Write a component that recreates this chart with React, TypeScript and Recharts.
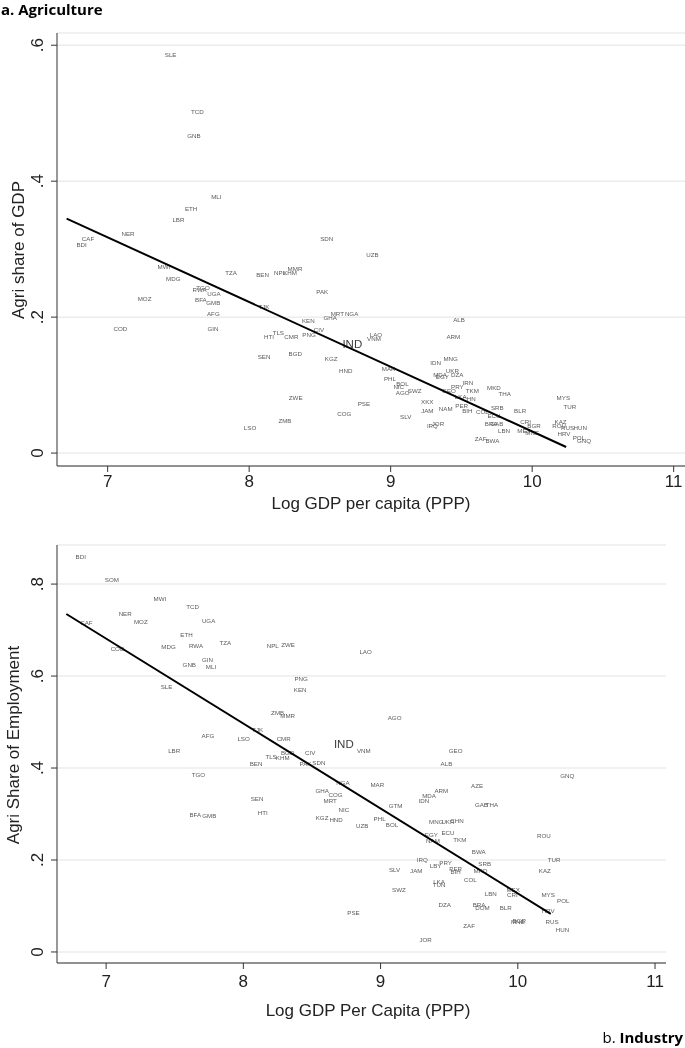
import React from 'react';
import { ScatterChart, Scatter, XAxis, YAxis, CartesianGrid } from 'recharts';

// shared x axis
const xTicks = [7, 8, 9, 10, 11];
const xDomain = [6.642, 11.08];

// panel a: agriculture share of GDP
const gdpYTicks = [0, 0.2, 0.4, 0.6];
const gdpCodes = [
  'SLE', 'TCD', 'GNB', 'MLI', 'ETH', 'LBR', 'NER', 'CAF', 'BDI', 'SDN', 'UZB', 'MWI', 'TZA', 'BEN', 'NPL',
  'KHM', 'MMR', 'MDG', 'TGO', 'RWA', 'UGA', 'MOZ', 'BFA', 'GMB', 'PAK', 'AFG', 'TJK', 'MRT', 'NGA', 'GHA',
  'KEN', 'COD', 'GIN', 'CIV', 'TLS', 'HTI', 'CMR', 'PNG', 'IND', 'LAO', 'VNM', 'ALB', 'ARM', 'SEN', 'BGD',
  'KGZ', 'HND', 'ZWE', 'PSE', 'COG', 'ZMB', 'LSO', 'MAR', 'MNG', 'IDN', 'UKR', 'MDA', 'EGY', 'DZA', 'PHL',
  'BOL', 'NIC', 'AGO', 'SWZ', 'IRN', 'PRY', 'TKM', 'GEO', 'LKA', 'CHN', 'MKD', 'THA', 'XKX', 'JAM', 'NAM',
  'PER', 'BIH', 'SLV', 'IRQ', 'JOR', 'COL', 'SRB', 'ECU', 'BRA', 'GAB', 'LBN', 'BLR', 'CRI', 'BGR', 'MEX',
  'MNE', 'ZAF', 'BWA', 'MYS', 'TUR', 'KAZ', 'ROU', 'RUS', 'HUN', 'HRV', 'POL', 'GNQ',
];
const gdpLogGdp = [
  7.445, 7.634, 7.61, 7.768, 7.59, 7.5, 7.144, 6.861, 6.816, 8.548, 8.871, 7.398, 7.872, 8.095, 8.218,
  8.289, 8.324, 7.464, 7.674, 7.65, 7.751, 7.261, 7.659, 7.747, 8.516, 7.747, 8.105, 8.623, 8.724, 8.572,
  8.418, 7.09, 7.744, 8.493, 8.206, 8.14, 8.298, 8.423, 8.729, 8.896, 8.882, 9.483, 9.443, 8.105, 8.326,
  8.58, 8.682, 8.329, 8.811, 8.673, 8.253, 8.006, 8.986, 9.424, 9.318, 9.436, 9.349, 9.365, 9.47, 8.995,
  9.083, 9.057, 9.085, 9.17, 9.546, 9.471, 9.577, 9.412, 9.495, 9.554, 9.73, 9.806, 9.259, 9.259, 9.389,
  9.502, 9.542, 9.106, 9.295, 9.334, 9.648, 9.754, 9.73, 9.71, 9.75, 9.801, 9.915, 9.954, 10.013, 9.942,
  10.0, 9.636, 9.719, 10.22, 10.267, 10.201, 10.19, 10.25, 10.34, 10.225, 10.33, 10.366,
];
const gdpShare = [
  0.587, 0.503, 0.467, 0.377, 0.36, 0.343, 0.323, 0.316, 0.307, 0.315, 0.292, 0.274, 0.266, 0.263, 0.265,
  0.265, 0.272, 0.257, 0.244, 0.24, 0.235, 0.228, 0.226, 0.222, 0.237, 0.205, 0.215, 0.205, 0.205, 0.2,
  0.195, 0.183, 0.183, 0.182, 0.177, 0.171, 0.171, 0.174, 0.161, 0.175, 0.169, 0.197, 0.171, 0.142, 0.147,
  0.139, 0.121, 0.082, 0.073, 0.058, 0.048, 0.037, 0.125, 0.139, 0.133, 0.121, 0.115, 0.112, 0.115, 0.109,
  0.102, 0.0985, 0.0897, 0.0926, 0.104, 0.0975, 0.0926, 0.0926, 0.083, 0.081, 0.096, 0.088, 0.0765, 0.062, 0.066,
  0.0696, 0.062, 0.054, 0.041, 0.044, 0.061, 0.067, 0.056, 0.043, 0.043, 0.033, 0.062, 0.047, 0.041, 0.033,
  0.031, 0.0216, 0.018, 0.082, 0.068, 0.046, 0.041, 0.038, 0.037, 0.029, 0.023, 0.018,
];
const gdpFitX = [6.71, 10.24];
const gdpFitY = [0.345, 0.009];

// panel b: agriculture share of employment
const empYTicks = [0, 0.2, 0.4, 0.6, 0.8];
const empCodes = [
  'BDI', 'SOM', 'MWI', 'TCD', 'NER', 'MOZ', 'CAF', 'UGA', 'ETH', 'COD', 'MDG', 'RWA', 'TZA', 'NPL', 'ZWE',
  'LAO', 'GIN', 'GNB', 'MLI', 'PNG', 'KEN', 'SLE', 'ZMB', 'MMR', 'TJK', 'AFG', 'LSO', 'CMR', 'IND', 'VNM',
  'LBR', 'CIV', 'TLS', 'KHM', 'BGD', 'BEN', 'PAK', 'SDN', 'AGO', 'GEO', 'ALB', 'TGO', 'NGA', 'MAR', 'GHA',
  'COG', 'MRT', 'SEN', 'NIC', 'HTI', 'BFA', 'GMB', 'KGZ', 'HND', 'UZB', 'PHL', 'BOL', 'GTM', 'IDN', 'MDA',
  'ARM', 'AZE', 'GAB', 'THA', 'GNQ', 'MNG', 'UKR', 'CHN', 'EGY', 'ECU', 'NAM', 'TKM', 'ROU', 'BWA', 'IRQ',
  'TUR', 'SLV', 'JAM', 'LBY', 'PRY', 'SRB', 'PER', 'BIH', 'MKD', 'KAZ', 'COL', 'SWZ', 'LKA', 'TUN', 'LBN',
  'MEX', 'CRI', 'MYS', 'POL', 'DZA', 'BRA', 'DOM', 'BLR', 'HRV', 'BGR', 'MNE', 'RUS', 'HUN', 'ZAF', 'JOR',
  'PSE',
];
const empLogGdp = [
  6.815, 7.042, 7.392, 7.63, 7.139, 7.253, 6.856, 7.747, 7.586, 7.083, 7.455, 7.655, 7.869, 8.214, 8.326,
  8.891, 7.739, 7.606, 7.764, 8.421, 8.414, 7.44, 8.25, 8.323, 8.104, 7.742, 8.002, 8.294, 8.732, 8.878,
  7.496, 8.487, 8.202, 8.287, 8.323, 8.093, 8.453, 8.55, 9.102, 9.547, 9.48, 7.672, 8.725, 8.976, 8.574,
  8.672, 8.633, 8.1, 8.732, 8.141, 7.65, 7.752, 8.574, 8.676, 8.866, 8.993, 9.083, 9.109, 9.316, 9.353,
  9.443, 9.703, 9.735, 9.812, 10.36, 9.406, 9.491, 9.557, 9.37, 9.491, 9.382, 9.577, 10.19, 9.715, 9.304,
  10.265, 9.102, 9.26, 9.401, 9.474, 9.759, 9.547, 9.547, 9.728, 10.197, 9.655, 9.134, 9.426, 9.426, 9.803,
  9.966, 9.961, 10.221, 10.331, 9.467, 9.718, 9.742, 9.912, 10.221, 10.01, 10.0, 10.25, 10.326, 9.645, 9.328,
  8.803,
];
const empShare = [
  0.861, 0.809, 0.769, 0.751, 0.735, 0.718, 0.717, 0.72, 0.691, 0.66, 0.664, 0.666, 0.672, 0.666, 0.668,
  0.653, 0.637, 0.626, 0.62, 0.595, 0.571, 0.578, 0.52, 0.515, 0.484, 0.47, 0.465, 0.465, 0.452, 0.439,
  0.439, 0.434, 0.425, 0.423, 0.433, 0.409, 0.41, 0.412, 0.51, 0.438, 0.41, 0.387, 0.369, 0.365, 0.352,
  0.343, 0.329, 0.333, 0.31, 0.303, 0.298, 0.296, 0.292, 0.287, 0.274, 0.291, 0.278, 0.318, 0.329, 0.341,
  0.351, 0.362, 0.321, 0.321, 0.383, 0.283, 0.283, 0.285, 0.2565, 0.26, 0.242, 0.245, 0.254, 0.218, 0.202,
  0.202, 0.18, 0.177, 0.187, 0.195, 0.193, 0.182, 0.174, 0.178, 0.178, 0.158, 0.135, 0.153, 0.146, 0.128,
  0.135, 0.126, 0.124, 0.113, 0.104, 0.104, 0.096, 0.096, 0.091, 0.068, 0.066, 0.066, 0.049, 0.0565, 0.028,
  0.085,
];
const empFitX = [6.71, 10.24];
const empFitY = [0.735, 0.083];

const FONT = '"Liberation Sans", Arial, sans-serif';
const AXIS = '#333';

const toPoints = (codes: string[], xs: number[], ys: number[]) =>
  xs.map((x, i) => ({ code: codes[i], x, y: ys[i] }));

const fmtY = (v: number) => (v === 0 ? '0' : '.' + Math.round(v * 10));

const CountryLabel = (props: any) => {
  const { cx, cy, payload } = props;
  const big = payload.code === 'IND';
  return (
    <text
      x={cx}
      y={cy}
      textAnchor="middle"
      dominantBaseline="central"
      fontSize={big ? 11.5 : 6.2}
      fontFamily={FONT}
      fill={big ? '#3a3a3a' : '#5a5a5a'}
    >
      {payload.code}
    </text>
  );
};

const XTick = (props: any) => (
  <text x={props.x} y={props.y} dy={props.dy} textAnchor="middle" fontSize={17} fontFamily={FONT} fill="#222">
    {props.payload.value}
  </text>
);

const YTick = (props: any) => {
  const x = props.x - 11;
  return (
    <text
      x={x}
      y={props.y}
      transform={`rotate(-90 ${x} ${props.y})`}
      textAnchor="middle"
      dominantBaseline="central"
      fontSize={17}
      fontFamily={FONT}
      fill="#222"
    >
      {fmtY(props.payload.value)}
    </text>
  );
};

function Panel({ width, height, margin, xAxisHeight, yDomain, yTicks, points, fit, tickDy }: any) {
  return (
    <ScatterChart width={width} height={height} margin={margin}>
      <CartesianGrid vertical={false} stroke="#ececec" strokeWidth={1.5} />
      <XAxis
        type="number"
        dataKey="x"
        domain={xDomain}
        ticks={xTicks}
        allowDataOverflow
        height={xAxisHeight}
        stroke={AXIS}
        tickSize={6}
        tick={(p: any) => <XTick {...p} dy={tickDy} />}
      />
      <YAxis
        type="number"
        dataKey="y"
        domain={yDomain}
        ticks={yTicks}
        allowDataOverflow
        width={57}
        stroke={AXIS}
        tickSize={6}
        tick={(p: any) => <YTick {...p} />}
      />
      <Scatter data={points} shape={CountryLabel} isAnimationActive={false} />
      <Scatter
        data={fit}
        line={{ stroke: '#000', strokeWidth: 2 }}
        lineType="joint"
        shape={() => <g />}
        isAnimationActive={false}
      />
    </ScatterChart>
  );
}

export default function App() {
  const gdpPoints = toPoints(gdpCodes, gdpLogGdp, gdpShare);
  const gdpFit = toPoints(['', ''], gdpFitX, gdpFitY);
  const empPoints = toPoints(empCodes, empLogGdp, empShare);
  const empFit = toPoints(['', ''], empFitX, empFitY);

  return (
    <div style={{ position: 'absolute', left: 0, top: 0, width: 685, height: 1048, background: '#fff', overflow: 'hidden' }}>
      <div style={{ position: 'absolute', left: 0, top: 0, willChange: 'transform' }}>
        <Panel
          width={685}
          height={520}
          margin={{ top: 33, right: 0, left: 0, bottom: 0 }}
          xAxisHeight={54}
          yDomain={[-0.019, 0.618]}
          yTicks={gdpYTicks}
          points={gdpPoints}
          fit={gdpFit}
          tickDy={13}
        />
      </div>
      <div style={{ position: 'absolute', left: 0, top: 500, willChange: 'transform' }}>
        <Panel
          width={685}
          height={540}
          margin={{ top: 45, right: 19, left: 0, bottom: 0 }}
          xAxisHeight={77}
          yDomain={[-0.024, 0.885]}
          yTicks={empYTicks}
          points={empPoints}
          fit={empFit}
          tickDy={16}
        />
      </div>
      <svg width={685} height={1048} style={{ position: 'absolute', left: 0, top: 0, pointerEvents: 'none' }}>
        <text x={1} y={15} fontSize={15} fontWeight={700} fontFamily='"Open Sans", sans-serif' fill="#000">
          a. Agriculture
        </text>
        <text x={683} y={1043} textAnchor="end" fontSize={15} fontFamily='"Open Sans", sans-serif' fill="#000">
          <tspan>b. </tspan>
          <tspan fontWeight={700}>Industry</tspan>
        </text>
        <text x={371} y={509} textAnchor="middle" fontSize={17} fontFamily={FONT} fill="#222">
          Log GDP per capita (PPP)
        </text>
        <text x={368} y={1016} textAnchor="middle" fontSize={17} fontFamily={FONT} fill="#222">
          Log GDP Per Capita (PPP)
        </text>
        <text x={18} y={250} transform="rotate(-90 18 250)" textAnchor="middle" dominantBaseline="central" fontSize={17} fontFamily={FONT} fill="#222">
          Agri share of GDP
        </text>
        <text x={13} y={745} transform="rotate(-90 13 745)" textAnchor="middle" dominantBaseline="central" fontSize={17} fontFamily={FONT} fill="#222">
          Agri Share of Employment
        </text>
      </svg>
    </div>
  );
}
